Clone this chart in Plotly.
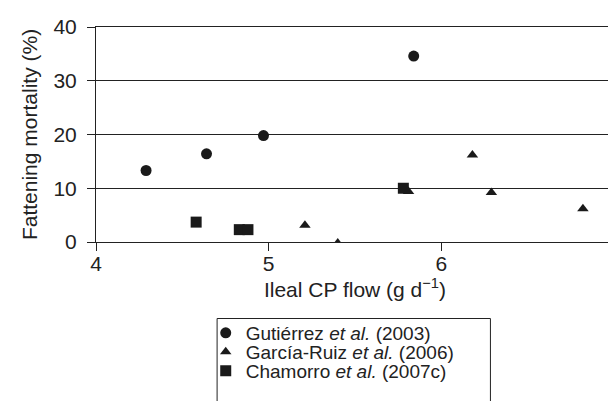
import plotly.graph_objects as go

gut_x = [4.29, 4.64, 4.97, 5.84]
gut_y = [13.3, 16.4, 19.8, 34.6]
gar_x = [5.21, 5.40, 5.81, 6.18, 6.29, 6.82]
gar_y = [3.1, -0.2, 9.4, 16.2, 9.2, 6.2]
cha_x = [4.58, 4.83, 4.88, 5.78]
cha_y = [3.7, 2.3, 2.3, 10.0]

names = ["Gutiérrez <i>et al.</i> (2003)",
         "García-Ruiz <i>et al.</i> (2006)",
         "Chamorro <i>et al.</i> (2007c)"]

FONT = "Liberation Sans, Arial, sans-serif"
INK = "#1a1a1a"
fig = go.Figure()
fig.add_trace(go.Scatter(x=gut_x, y=gut_y, mode="markers", name=names[0], legend="legend",
                         marker=dict(symbol="circle", size=11, color=INK)))
fig.add_trace(go.Scatter(x=gar_x, y=gar_y, mode="markers", name=names[1], legend="legend2",
                         marker=dict(symbol="triangle-up", size=10, color=INK)))
fig.add_trace(go.Scatter(x=cha_x, y=cha_y, mode="markers", name=names[2], legend="legend3",
                         marker=dict(symbol="square", size=11, color=INK)))

# plot area: x 88..612, y 19..234 px
def py(px):
    return (234 - px) / 215.0

def px_(p):
    return (p - 88) / 524.0

leg_common = dict(xanchor="left", yanchor="middle", bgcolor="rgba(0,0,0,0)",
                  borderwidth=0, font=dict(size=19, color="#222"), itemwidth=30,
                  x=px_(199))
fig.update_layout(
    width=616, height=401,
    margin=dict(l=88, r=4, t=19, b=167),
    plot_bgcolor="white", paper_bgcolor="white",
    font=dict(family=FONT, size=21, color="#222"),
    showlegend=True,
    legend=dict(y=py(325), **leg_common),
    legend2=dict(y=py(344), **leg_common),
    legend3=dict(y=py(363), **leg_common),
    shapes=[dict(type="rect", xref="paper", yref="paper",
                 x0=px_(210.5), x1=px_(487), y0=-1.2, y1=py(310.5),
                 line=dict(color="#222", width=1))],
)
fig.update_xaxes(range=[4, 7], tickvals=[4, 5, 6, 7], showgrid=False,
                 showline=True, linecolor="#222", linewidth=1, mirror=True,
                 ticks="outside", ticklen=8, tickcolor="#222", zeroline=False,
                 ticklabeloverflow="allow", ticklabelstandoff=-5,
                 title=dict(text="Ileal CP flow (g d<sup>\u22121</sup>)", font=dict(size=21), standoff=2))
fig.update_yaxes(range=[0, 40], tickvals=[0, 10, 20, 30, 40], showgrid=True,
                 gridcolor="#222", gridwidth=1,
                 showline=True, linecolor="#222", linewidth=1, mirror=True,
                 ticks="outside", ticklen=8, tickcolor="#222", zeroline=False,
                 ticklabelstandoff=6,
                 title=dict(text="Fattening mortality (%)", font=dict(size=21), standoff=10))

fig.write_html("out.html")
